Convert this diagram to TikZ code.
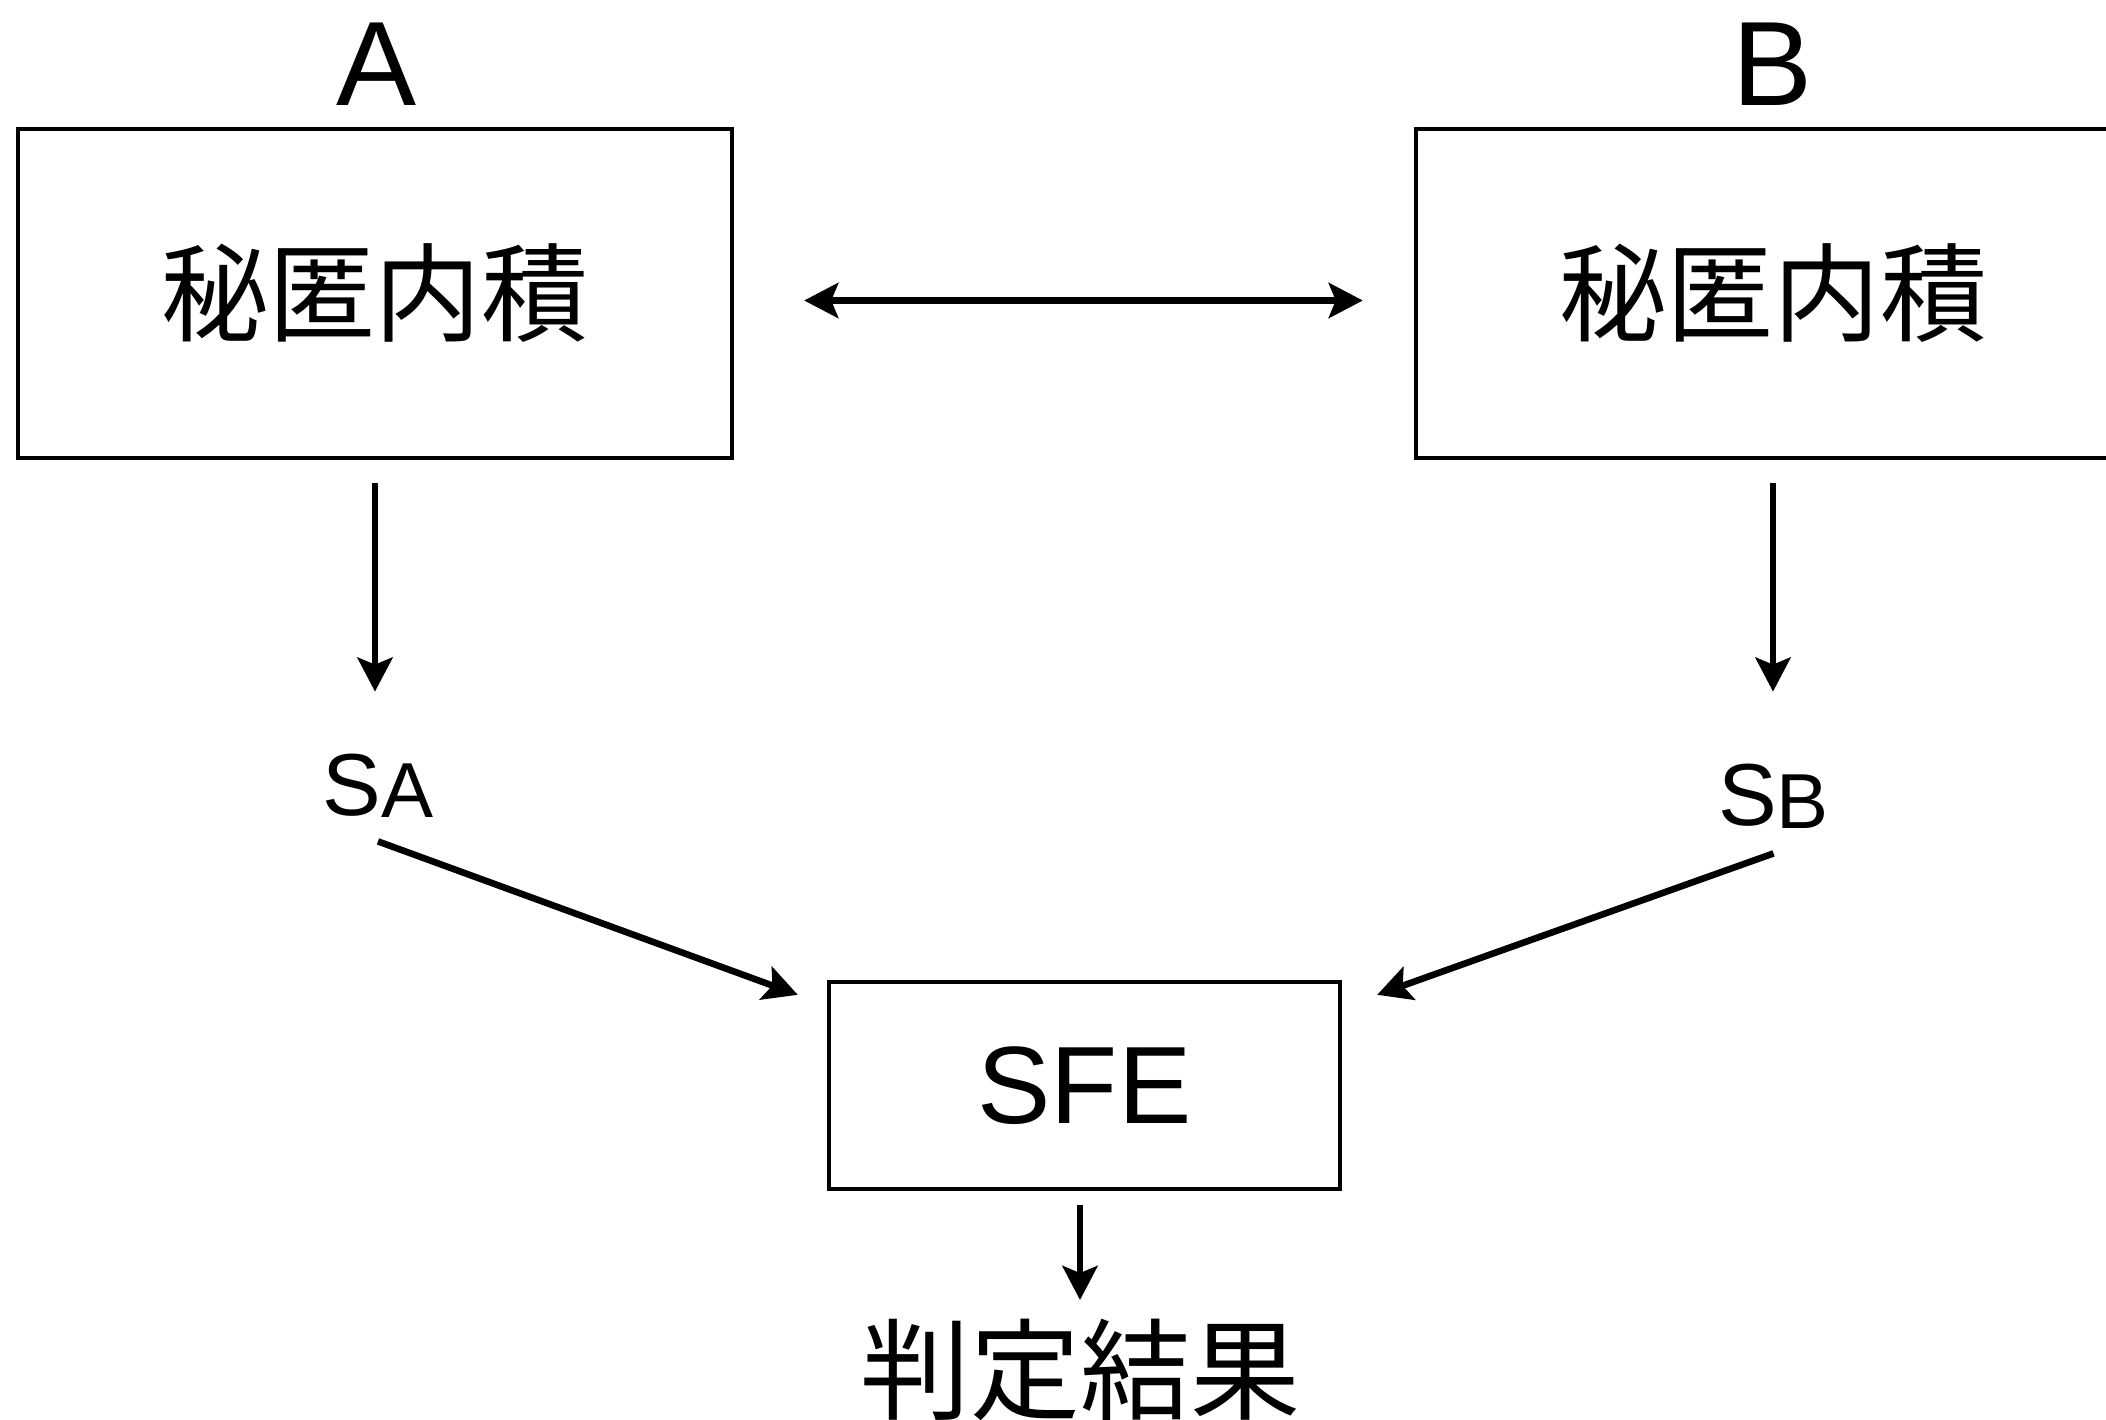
\documentclass[tikz,border=0pt]{standalone}
\usepackage{fontspec}
\setmainfont{Liberation Sans}
\newfontfamily\jp{Noto Sans CJK JP}
\usetikzlibrary{arrows.meta}
\begin{document}
\begin{tikzpicture}[x=0.5pt,y=-0.5pt,
  box/.style={draw, line width=2.2pt, inner sep=0pt},
  big/.style={font=\fontsize{55pt}{60pt}\selectfont},
  jpbig/.style={font=\fontsize{53.5pt}{60pt}\selectfont\jp},
  tipx/.tip={Stealth[length=17pt,width=17.5pt,inset=3.5pt]},
  arr/.style={line width=3.3pt, -tipx},
  darr/.style={line width=3.3pt, tipx-tipx},
  lab/.style={anchor=base, inner sep=0pt, text height=34pt, text depth=2pt, font=\fontsize{44pt}{48pt}\selectfont}]
\useasboundingbox (0,0) rectangle (2106,1420);
\clip (0,0) rectangle (2106,1420);
% boxes
\node[box, jpbig, minimum width=357pt, minimum height=164.5pt] (boxA) at (375,293.5) {秘匿内積};
\node[box, jpbig, minimum width=357pt, minimum height=164.5pt] (boxB) at (1773,293.5) {秘匿内積};
\node[font=\fontsize{60pt}{64pt}\selectfont] (labA) at (377,64) {A};
\node[font=\fontsize{60pt}{64pt}\selectfont] (labB) at (1773,64) {B};
% share labels
\node[lab] (sA) at (378,815) {S\raisebox{-1pt}{\fontsize{39pt}{44pt}\selectfont A}};
\node[lab] (sB) at (1773.5,825) {S\raisebox{-1.5pt}{\fontsize{39pt}{44pt}\selectfont B}};
% SFE
\node[box, big, minimum width=255.5pt, minimum height=103.5pt] (sfe) at (1084.5,1085.5) {SFE};
\node[big, inner sep=0pt, anchor=north] (res) at (1080,1319) {\jp 判定結果};
% connectors
\draw[darr, shorten <=35pt, shorten >=25.5pt] ([yshift=-3.5pt]boxA.east) -- ([yshift=-3.5pt]boxB.west);
\draw[arr, shorten <=11.5pt, shorten >=27.5pt] (boxA.south) -- (boxA.south |- sA.north);
\draw[arr, shorten <=11.5pt, shorten >=32.5pt] (boxB.south) -- (boxB.south |- sB.north);
\draw[arr] ([yshift=-11pt]sA.south) -- ([xshift=-14.5pt,yshift=-7.5pt]sfe.north west);
\draw[arr] ([yshift=-12pt]sB.south) -- ([xshift=17.5pt,yshift=-7.5pt]sfe.north east);
\draw[arr, shorten <=7pt, shorten >=9.5pt] (res.north |- sfe.south) -- (res.north);
\end{tikzpicture}
\end{document}
